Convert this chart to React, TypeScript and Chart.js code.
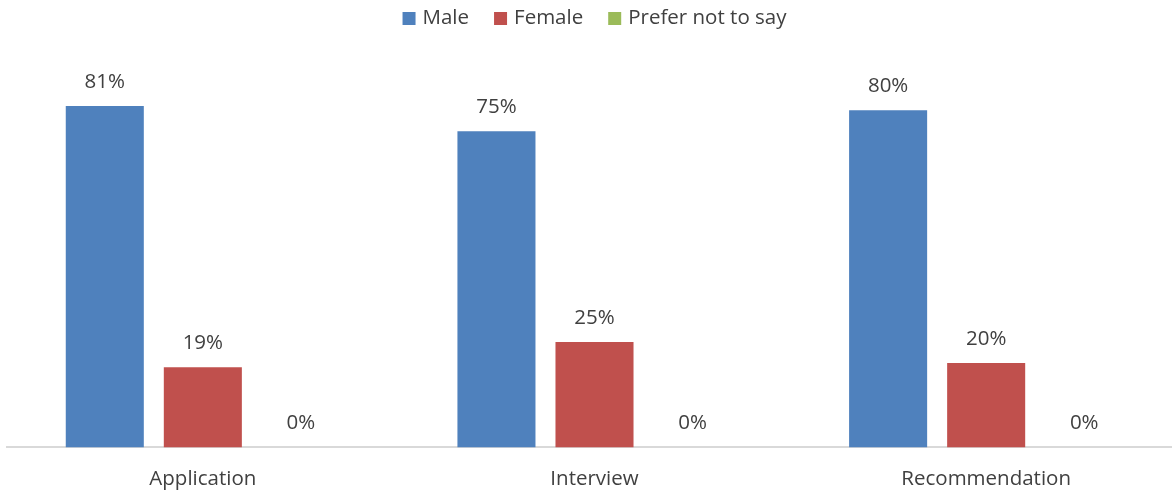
import React, { useEffect, useRef } from "react";
import { Chart, registerables } from "chart.js";

Chart.register(...registerables);

const categories = ["Application", "Interview", "Recommendation"];
const seriesNames = ["Male", "Female", "Prefer not to say"];
const maleValues = [81, 75, 80];
const femaleValues = [19, 25, 20];
const preferNotValues = [0, 0, 0];
const seriesColors = ["#4F81BD", "#C0504D", "#9BBB59"];

const FONT_FAMILY = "'Open Sans', sans-serif";
const FONT_SIZE = 20.5;
const TEXT_COLOR = "#404040";

const dataLabelPlugin = {
  id: "dataLabels",
  afterDatasetsDraw(chart: any) {
    const ctx = chart.ctx;
    ctx.save();
    ctx.font = `${FONT_SIZE}px ${FONT_FAMILY}`;
    ctx.fillStyle = TEXT_COLOR;
    ctx.textAlign = "center";
    ctx.textBaseline = "middle";
    chart.data.datasets.forEach((ds: any, i: number) => {
      const meta = chart.getDatasetMeta(i);
      meta.data.forEach((el: any, j: number) => {
        ctx.fillText(`${ds.data[j]}%`, el.x, el.y - 24);
      });
    });
    ctx.restore();
  },
};

const legendPlugin = {
  id: "customLegend",
  afterDraw(chart: any) {
    const ctx = chart.ctx;
    ctx.save();
    ctx.font = `${FONT_SIZE}px ${FONT_FAMILY}`;
    ctx.textBaseline = "middle";
    ctx.textAlign = "left";
    const box = 13;
    const boxGap = 7;
    const itemGap = 25;
    const items = chart.data.datasets.map((ds: any) => ({
      text: ds.label,
      color: ds.backgroundColor,
      w: box + boxGap + ctx.measureText(ds.label).width,
    }));
    const total =
      items.reduce((s: number, it: any) => s + it.w, 0) + itemGap * (items.length - 1);
    const cx = (chart.chartArea.left + chart.chartArea.right) / 2;
    let x = cx - total / 2;
    const y = 18.5;
    items.forEach((it: any) => {
      ctx.fillStyle = it.color;
      ctx.fillRect(x, y - box / 2, box, box);
      ctx.fillStyle = TEXT_COLOR;
      ctx.fillText(it.text, x + box + boxGap, y);
      x += it.w + itemGap;
    });
    ctx.restore();
  },
};

export default function App() {
  const canvasRef = useRef<HTMLCanvasElement | null>(null);

  useEffect(() => {
    if (!canvasRef.current) return;
    const chart = new Chart(canvasRef.current, {
      type: "bar",
      data: {
        labels: categories,
        datasets: [
          { label: seriesNames[0], data: maleValues, backgroundColor: seriesColors[0] },
          { label: seriesNames[1], data: femaleValues, backgroundColor: seriesColors[1] },
          { label: seriesNames[2], data: preferNotValues, backgroundColor: seriesColors[2] },
        ],
      },
      options: {
        animation: false,
        responsive: false,
        maintainAspectRatio: false,
        devicePixelRatio: 1,
        layout: { padding: { left: 7, right: 8, top: 68, bottom: 2 } },
        datasets: {
          bar: { categoryPercentage: 0.751, barPercentage: 0.796 },
        },
        plugins: {
          legend: { display: false },
          tooltip: { enabled: false },
        },
        scales: {
          x: {
            grid: { display: false },
            border: { display: true, color: "#d9d9d9", width: 2 },
            ticks: {
              color: TEXT_COLOR,
              font: { family: FONT_FAMILY, size: FONT_SIZE },
              padding: 11,
            },
          },
          y: {
            display: false,
            min: 0,
            max: 90,
          },
        },
      },
      plugins: [dataLabelPlugin, legendPlugin],
    });
    return () => chart.destroy();
  }, []);

  return (
    <div
      style={{
        position: "fixed",
        left: 0,
        top: 0,
        width: 1172,
        height: 493,
        overflow: "hidden",
        background: "#fff",
      }}
    >
      <canvas ref={canvasRef} width={1190} height={504} style={{ display: "block", width: 1190, height: 504 }} />
    </div>
  );
}
